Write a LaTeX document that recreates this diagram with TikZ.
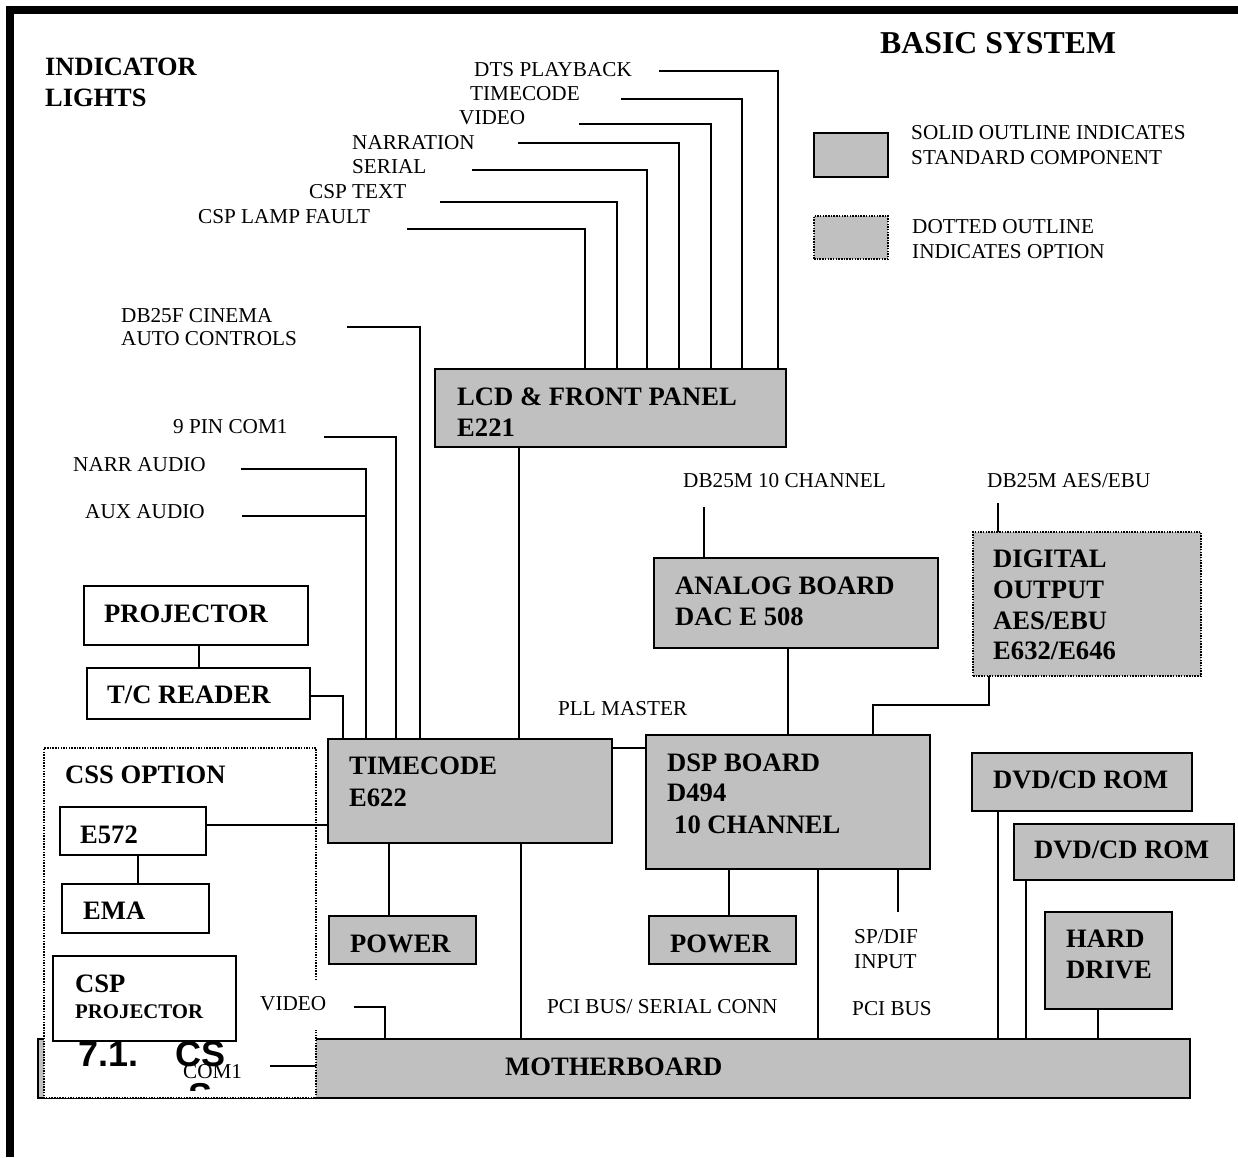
\documentclass[tikz,border=0pt]{standalone}
\usepackage{fontspec}
\setmainfont{Liberation Serif}
\newfontfamily\arialf{Liberation Sans}
\usetikzlibrary{calc}
\definecolor{boxgrey}{HTML}{C0C0C0}
\tikzset{
  lbl/.style={anchor=base west, inner sep=0pt, font=\fontsize{21.2}{25}\selectfont},
  blbl/.style={anchor=base west, inner sep=0pt, font=\fontsize{26.6}{31}\selectfont\bfseries},
  comp/.style={draw, line width=2.2pt, anchor=north west, inner sep=0pt, outer sep=0pt},
  std/.style={comp, fill=boxgrey},
  plainbox/.style={comp, fill=white},
  opt/.style={comp, fill=boxgrey, dash pattern=on 1.5pt off 1.2pt, line width=1.8pt},
  cssdot/.style={line width=1.6pt, dash pattern=on 1.5pt off 1.2pt},
  wire/.style={line width=1.8pt},
}
\begin{document}
\begin{tikzpicture}[x=1pt, y=-1pt]
\useasboundingbox (0,0) rectangle (1238,1157);
\fill[white] (0,0) rectangle (1238,1157);
% frame
\draw[line width=8pt, line join=miter] (10,1157) -- (10,10) -- (1238,10);

% titles
\node[anchor=base west, inner sep=0pt, font=\fontsize{31.8}{36}\selectfont\bfseries] (title) at (880,53) {BASIC SYSTEM};
\node[anchor=base west, inner sep=0pt, font=\fontsize{26.4}{31}\selectfont\bfseries] (indA) at (45,75) {INDICATOR};
\node[anchor=base west, inner sep=0pt, font=\fontsize{26.4}{31}\selectfont\bfseries] (indB) at (45,106) {LIGHTS};

% legend
\node[std, minimum width=74pt, minimum height=44pt] (legS) at (814,133) {};
\node[opt, minimum width=74pt, minimum height=43pt] (legD) at (814,216) {};
\node[lbl] (legS1) at (911,139) {SOLID OUTLINE INDICATES};
\node[lbl] (legS2) at (911,164) {STANDARD COMPONENT};
\node[lbl] (legD1) at (912,233) {DOTTED OUTLINE};
\node[lbl] (legD2) at (912,258) {INDICATES OPTION};

% motherboard and CSS option area
\node[std, minimum width=1152pt, minimum height=59pt] (mb) at (38,1039) {};
\node[fill=white, anchor=north west, inner sep=0pt, outer sep=0pt, minimum width=272pt, minimum height=350pt] (css) at (44,748) {};
\draw[cssdot] ([yshift=-232pt]css.north east) -- (css.north east) -- (css.north west) -- (css.south west) -- (css.south east) -- ([yshift=68pt]css.south east);

% components
\node[std, minimum width=351pt, minimum height=78pt] (lcd) at (435,369) {};
\node[std, minimum width=284pt, minimum height=90pt] (ana) at (654,558) {};
\node[opt, minimum width=228pt, minimum height=144pt] (dig) at (973,532) {};
\node[plainbox, minimum width=224pt, minimum height=59pt] (proj) at (84,586) {};
\node[plainbox, minimum width=223pt, minimum height=51pt] (tcr) at (87,668) {};
\node[std, minimum width=284pt, minimum height=104pt] (tc) at (328,739) {};
\node[std, minimum width=284pt, minimum height=134pt] (dsp) at (646,735) {};
\node[std, minimum width=220pt, minimum height=58pt] (dvdA) at (972,753) {};
\node[std, minimum width=220pt, minimum height=56pt] (dvdB) at (1014,824) {};
\node[std, minimum width=127pt, minimum height=97pt] (hd) at (1045,912) {};
\node[std, minimum width=147pt, minimum height=48pt] (pwA) at (329,916) {};
\node[std, minimum width=147pt, minimum height=48pt] (pwB) at (649,916) {};
\node[plainbox, minimum width=146pt, minimum height=48pt] (e572) at (60,807) {};
\node[plainbox, minimum width=147pt, minimum height=49pt] (ema) at (62,884) {};
\node[plainbox, minimum width=183pt, minimum height=85pt] (csp) at (53,956) {};

% component texts
\node[blbl] (lcdT1) at (457,405) {LCD \& FRONT PANEL};
\node[blbl] (lcdT2) at (457,436) {E221};
\node[blbl] (anaT1) at (675,594) {ANALOG BOARD};
\node[blbl] (anaT2) at (675,625) {DAC E 508};
\node[blbl] (digT1) at (993,567) {DIGITAL};
\node[blbl] (digT2) at (993,598) {OUTPUT};
\node[blbl] (digT3) at (993,629) {AES/EBU};
\node[blbl] (digT4) at (993,659) {E632/E646};
\node[blbl] (projT) at (104,622) {PROJECTOR};
\node[blbl] (tcrT) at (107,703) {T/C READER};
\node[blbl] (tcT1) at (349,774) {TIMECODE};
\node[blbl] (tcT2) at (349,806) {E622};
\node[blbl] (dspT1) at (667,771) {DSP BOARD};
\node[blbl] (dspT2) at (667,801) {D494};
\node[blbl] (dspT3) at (674,833) {10 CHANNEL};
\node[blbl] (dvdAT) at (993,788) {DVD/CD ROM};
\node[blbl] (dvdBT) at (1034,858) {DVD/CD ROM};
\node[blbl] (hdT1) at (1066,947) {HARD};
\node[blbl] (hdT2) at (1066,978) {DRIVE};
\node[blbl] (pwAT) at (350,952) {POWER};
\node[blbl] (pwBT) at (670,952) {POWER};
\node[blbl] (mbT) at (505,1075) {MOTHERBOARD};
\node[blbl] (cssT) at (65,783) {CSS OPTION};
\node[blbl] (e572T) at (80,843) {E572};
\node[blbl] (emaT) at (83,919) {EMA};
\node[blbl] (cspT1) at (75,992) {CSP};
\node[anchor=base west, inner sep=0pt, font=\fontsize{20.8}{25}\selectfont\bfseries] (cspT2) at (75,1018) {PROJECTOR};

% stray heading
\node[anchor=base west, inner sep=0pt, font=\arialf\fontsize{36}{40}\selectfont\bfseries] (h71) at (78,1066) {7.1.};
\node[anchor=base west, inner sep=0pt, font=\arialf\fontsize{36}{40}\selectfont\bfseries] (hcs) at (175,1066) {CS};
\begin{scope}
\clip (150,1075) rectangle (240,1090);
\node[anchor=base west, inner sep=0pt, font=\arialf\fontsize{36}{40}\selectfont\bfseries] (hs) at (188,1108) {S};
\end{scope}

% labels
\node[lbl] (lDts) at (474,76) {DTS PLAYBACK};
\node[lbl] (lTc) at (470,100) {TIMECODE};
\node[lbl] (lVid) at (459,124) {VIDEO};
\node[lbl] (lNar) at (352,149) {NARRATION};
\node[lbl] (lSer) at (352,173) {SERIAL};
\node[lbl] (lCspt) at (309,198) {CSP TEXT};
\node[lbl] (lLamp) at (198,223) {CSP LAMP FAULT};
\node[lbl] (lDbA) at (121,322) {DB25F CINEMA};
\node[lbl] (lDbB) at (121,345) {AUTO CONTROLS};
\node[lbl] (l9pin) at (173,433) {9 PIN COM1};
\node[lbl] (lNarA) at (73,471) {NARR AUDIO};
\node[lbl] (lAux) at (85,518) {AUX AUDIO};
\node[lbl] (lTen) at (683,487) {DB25M 10 CHANNEL};
\node[lbl] (lAes) at (987,487) {DB25M AES/EBU};
\node[lbl] (lPll) at (558,715) {PLL MASTER};
\node[lbl] (lSpA) at (854,943) {SP/DIF};
\node[lbl] (lSpB) at (854,968) {INPUT};
\node[lbl] (lPciS) at (547,1013) {PCI BUS/ SERIAL CONN};
\node[lbl] (lPci) at (852,1015) {PCI BUS};
\node[lbl] (lVid2) at (260,1010) {VIDEO};
\node[lbl] (lCom) at (183,1078) {COM1};

% free ends of connectors
\coordinate (dtsS) at (659,71);
\coordinate (tcS) at (621,99);
\coordinate (vidS) at (579,124);
\coordinate (narS) at (518,143);
\coordinate (serS) at (472,170);
\coordinate (csptS) at (440,202);
\coordinate (lampS) at (407,229);
\coordinate (dbS) at (347,327);
\coordinate (pinS) at (324,437);
\coordinate (naS) at (241,469);
\coordinate (auxS) at (242,516);
\coordinate (auxJ) at (366,516);
\coordinate (tenS) at (704,507);
\coordinate (aesS) at (998,503);
\coordinate (vid2S) at (354,1007);
\coordinate (comS) at (270,1066);

% indicator lines into LCD
\draw[wire] (dtsS) -| ([xshift=343pt]lcd.north west);
\draw[wire] (tcS) -| ([xshift=307pt]lcd.north west);
\draw[wire] (vidS) -| ([xshift=276pt]lcd.north west);
\draw[wire] (narS) -| ([xshift=244pt]lcd.north west);
\draw[wire] (serS) -| ([xshift=212pt]lcd.north west);
\draw[wire] (csptS) -| ([xshift=182pt]lcd.north west);
\draw[wire] (lampS) -| ([xshift=150pt]lcd.north west);

% inputs into timecode
\draw[wire] (dbS) -| ([xshift=92pt]tc.north west);
\draw[wire] (pinS) -| ([xshift=68pt]tc.north west);
\draw[wire] (naS) -| ([xshift=38pt]tc.north west);
\draw[wire] (auxS) -- (auxJ);
\coordinate (lcdtc) at ([xshift=84pt]lcd.south west);
\draw[wire] (lcdtc) -- (lcdtc |- tc.north);
\coordinate (projtcr) at ([xshift=115pt]proj.south west);
\draw[wire] (projtcr) -- (projtcr |- tcr.north);
\draw[wire] ([yshift=-28pt]tcr.north east) -| ([xshift=15pt]tc.north west);
\coordinate (tcdsp) at ([yshift=-9pt]tc.north east);
\draw[wire] (tcdsp) -- (tcdsp -| dsp.west);
\coordinate (e5r) at ([yshift=6pt]e572.east);
\draw[wire] (e5r) -- (e5r -| tc.west);
\coordinate (e5b) at ([xshift=78pt]e572.south west);
\draw[wire] (e5b) -- (e5b |- ema.north);
\coordinate (tcp) at ([xshift=61pt]tc.south west);
\draw[wire] (tcp) -- (tcp |- pwA.north);
\coordinate (tcm) at ([xshift=193pt]tc.south west);
\draw[wire] (tcm) -- (tcm |- mb.north);
\draw[wire] (vid2S) -| ([xshift=347pt]mb.north west);
\draw[wire] (comS) -- (comS -| css.east);

% DSP side
\draw[wire] (tenS) -- (tenS |- ana.north);
\draw[wire] (dsp.north) -- (dsp.north |- ana.south);
\draw[wire] (aesS) -- (aesS |- dig.north);
\draw[wire] ([xshift=16pt]dig.south west) -- ++(0,29) -| ([xshift=227pt]dsp.north west);
\coordinate (dspp) at ([xshift=83pt]dsp.south west);
\draw[wire] (dspp) -- (dspp |- pwB.north);
\coordinate (dspm) at ([xshift=172pt]dsp.south west);
\draw[wire] (dspm) -- (dspm |- mb.north);
\coordinate (dspsp) at ([xshift=252pt]dsp.south west);
\coordinate (spE) at ([xshift=252pt,yshift=-43pt]dsp.south west);
\draw[wire] (dspsp) -- (spE);
\coordinate (dvdAm) at ([xshift=26pt]dvdA.south west);
\draw[wire] (dvdAm) -- (dvdAm |- mb.north);
\coordinate (dvdBm) at ([xshift=12pt]dvdB.south west);
\draw[wire] (dvdBm) -- (dvdBm |- mb.north);
\coordinate (hdm) at ([xshift=53pt]hd.south west);
\draw[wire] (hdm) -- (hdm |- mb.north);
\end{tikzpicture}
\end{document}
